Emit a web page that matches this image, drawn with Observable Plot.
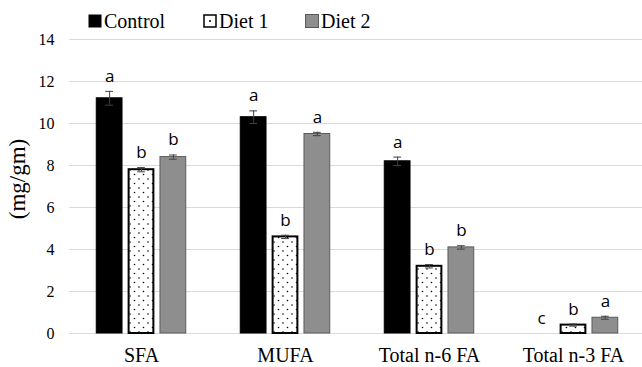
<!DOCTYPE html>
<html><head><meta charset="utf-8">
<script src="https://cdn.jsdelivr.net/npm/d3@7"></script>
<script src="https://cdn.jsdelivr.net/npm/@observablehq/plot@0.6"></script>
<style>
body{margin:0;background:#fff;}
#wrap{position:relative;width:642px;height:367px;overflow:hidden;background:#fff;}
#legend{position:absolute;left:0;top:0;width:642px;height:34px;font-family:'Liberation Serif',serif;font-size:20px;color:#000;z-index:2;}
.item{position:absolute;top:10px;height:22px;line-height:22px;display:flex;align-items:center;white-space:nowrap;}
.item svg{margin-right:2px;}
#ylabel{position:absolute;left:18px;top:179px;transform:translate(-50%,-50%) rotate(-90deg);font-family:'Liberation Serif',serif;font-size:23px;white-space:nowrap;color:#000;z-index:2;}
#chart{position:absolute;left:0;top:24px;z-index:1;}
</style>
</head><body>
<div id="wrap">
  <div id="chart"></div>
  <div id="legend"></div>
  <div id="ylabel">(mg/gm)</div>
</div>
<script>
const groups = ["SFA", "MUFA", "Total n-6 FA", "Total n-3 FA"];
const series = ["Control", "Diet 1", "Diet 2"];
const controlValues = [11.2, 10.3, 8.2, 0];
const diet1Values = [7.8, 4.6, 3.2, 0.4];
const diet2Values = [8.4, 9.5, 4.1, 0.75];
const controlErr = [0.33, 0.3, 0.2, 0];
const diet1Err = [0.1, 0.08, 0.08, 0.05];
const diet2Err = [0.1, 0.08, 0.08, 0.07];
const controlLetters = ["a", "a", "a", "c"];
const diet1Letters = ["b", "b", "b", "b"];
const diet2Letters = ["b", "a", "b", "a"];
const yTicks = [0, 2, 4, 6, 8, 10, 12, 14];

const valuesBySeries = [controlValues, diet1Values, diet2Values];
const errBySeries = [controlErr, diet1Err, diet2Err];
const lettersBySeries = [controlLetters, diet1Letters, diet2Letters];

const rows = [];
groups.forEach((g, gi) => {
  series.forEach((s, si) => {
    rows.push({group: g, series: s, value: valuesBySeries[si][gi], err: errBySeries[si][gi], letter: lettersBySeries[si][gi]});
  });
});

const styles = {
  "Control": {fill: "#000000", stroke: "#000000", strokeWidth: 1},
  "Diet 1": {fill: "url(#dots)", stroke: "#000000", strokeWidth: 2},
  "Diet 2": {fill: "#8e8e8e", stroke: "#5a5a5a", strokeWidth: 1}
};

const barMarks = series.map(s => Plot.barY(rows.filter(d => d.series === s && d.value > 0), {
  fx: "group", x: "series", y: "value", fill: styles[s].fill, stroke: styles[s].stroke, strokeWidth: styles[s].strokeWidth,
  insetLeft: styles[s].strokeWidth / 2, insetRight: styles[s].strokeWidth / 2
}));

const errRows = rows.filter(d => d.err > 0);

const chart = Plot.plot({
  width: 642,
  height: 343,
  marginLeft: 67,
  marginRight: 0,
  marginTop: 15,
  marginBottom: 34,
  style: {fontFamily: "Liberation Serif, serif", fontSize: "16px", background: "transparent", color: "#000", overflow: "visible"},
  fx: {domain: groups, padding: 0, range: [67, 646], axis: "bottom", tickSize: 0, tickPadding: 14, label: null},
  x: {domain: series, paddingInner: 0.16, paddingOuter: 0.84, round: false, axis: null},
  y: {domain: [0, 14], ticks: yTicks, tickSize: 0, tickPadding: 15, label: null, tickFormat: d => String(d)},
  marks: [
    Plot.ruleY(yTicks, {stroke: "#d9d9d9", strokeWidth: 1}),
    ...barMarks,
    Plot.ruleX(errRows, {fx: "group", x: "series", y1: d => d.value - d.err, y2: d => d.value + d.err, stroke: "#404040", strokeWidth: 1}),
    Plot.tickY(errRows, {fx: "group", x: "series", y: d => d.value - d.err, stroke: "#404040", strokeWidth: 1, insetLeft: 9.5, insetRight: 9.5}),
    Plot.tickY(errRows, {fx: "group", x: "series", y: d => d.value + d.err, stroke: "#404040", strokeWidth: 1, insetLeft: 9.5, insetRight: 9.5}),
    Plot.text(rows, {fx: "group", x: "series", y: d => d.value + d.err, text: "letter", dy: -15, fontFamily: "Open Sans, sans-serif", fontSize: 17, fill: "#000"})
  ]
});

const svg = d3.select(chart.tagName.toLowerCase() === "svg" ? chart : chart.querySelector("svg"));
const defs = svg.insert("defs", ":first-child");
const pat = defs.append("pattern").attr("id", "dots").attr("patternUnits", "userSpaceOnUse").attr("width", 9).attr("height", 9);
pat.append("rect").attr("width", 9).attr("height", 9).attr("fill", "#fff");
pat.append("circle").attr("cx", 2).attr("cy", 2).attr("r", 0.8).attr("fill", "#000");
pat.append("circle").attr("cx", 6.5).attr("cy", 6.5).attr("r", 0.8).attr("fill", "#000");
svg.selectAll('g[aria-label^="fx-axis"] text').attr("font-size", 20);
document.getElementById("chart").appendChild(chart);

// legend
const legend = d3.select("#legend");
const lefts = [88, 203, 305];
series.forEach((s, i) => {
  const item = legend.append("div").attr("class", "item").style("left", lefts[i] + "px");
  const sw = item.append("svg").attr("width", 14).attr("height", 14);
  if (s === "Control") {
    sw.append("rect").attr("x", 0.5).attr("y", 0.5).attr("width", 13).attr("height", 13).attr("fill", "#000");
  } else if (s === "Diet 1") {
    sw.append("rect").attr("x", 1).attr("y", 1).attr("width", 12).attr("height", 12).attr("fill", "#fff").attr("stroke", "#000").attr("stroke-width", 1.5);
    sw.append("circle").attr("cx", 7).attr("cy", 7).attr("r", 1).attr("fill", "#000");
  } else {
    sw.append("rect").attr("x", 0.5).attr("y", 0.5).attr("width", 13).attr("height", 13).attr("fill", "#8e8e8e").attr("stroke", "#5a5a5a");
  }
  item.append("span").text(s);
});
</script>
</body></html>
